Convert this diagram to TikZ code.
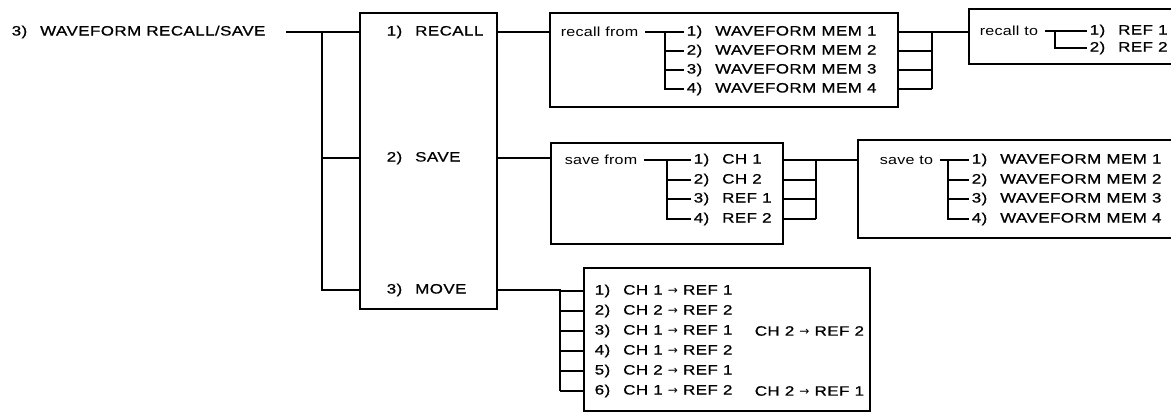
\documentclass[tikz,border=0pt]{standalone}
\usepackage{fontspec}
\setmainfont[FakeStretch=1.25,LetterSpace=3,FakeBold=0.8]{Liberation Sans}
\newfontfamily\notefont[FakeStretch=1.22,LetterSpace=2]{Liberation Sans}
\newfontfamily\arrowfont{DejaVu Sans}
\usetikzlibrary{fit, positioning}

\newcommand{\mto}{{\arrowfont\fontsize{6}{8}\selectfont →}}
\newcommand{\numgap}{\hspace{0.95em}}

\begin{document}
\begin{tikzpicture}[x=0.5pt, y=-0.5pt, line width=0.75pt,
    every node/.style={font=\fontsize{6.8}{8}\selectfont, inner sep=0pt},
    box/.style={draw, line width=0.95pt, inner sep=0pt},
    item/.style={anchor=west, inner sep=1pt},
    note/.style={anchor=west, inner sep=1pt, font=\notefont\fontsize{6.6}{8}\selectfont}]
  \clip (0,0) rectangle (1171,413);
  \useasboundingbox (0,0) rectangle (1171,413);
  % Main menu
  \node[item] (title) at (9,32) {3)\numgap WAVEFORM RECALL/SAVE};
  \node[box, fit={(360,13) (497,309)}] (menu) {};
  \node[item] (recall) at (384,32) {1)\numgap RECALL};
  \node[item] (save) at (384,158) {2)\numgap SAVE};
  \node[item] (move) at (384,290) {3)\numgap MOVE};
  \coordinate (bus) at (322,32);
  \coordinate (tline) at (286,32);
  \draw (tline) -- (title -| menu.west);
  \draw (bus) -- (bus |- move) -- (move -| menu.west);
  \draw (bus |- save) -- (save -| menu.west);
  % RECALL
  \node[box, fit={(550,13) (898,107)}] (fromrecall) {};
  \node[note] (rfrom) at (558,32) {recall from};
  \foreach \i/\y in {1/32, 2/51, 3/70, 4/89}
    \node[item] (rf\i) at (684,\y) {\i)\numgap WAVEFORM MEM \i};
  \coordinate (rftree) at (665,32);
  \draw (recall -| menu.east) -- (recall -| fromrecall.west);
  \draw ([xshift=2pt]rfrom.east) -- (rf1.west);
  \draw (rftree) |- (rf4.west);
  \foreach \i in {2,3}
    \draw (rftree |- rf\i) -- (rf\i.west);
  \coordinate (rfout) at (932,32);
  \foreach \i in {1,...,4}
    \draw (rf\i -| fromrecall.east) -- (rf\i -| rfout);
  \draw (rfout) -- (rfout |- rf4);
  \node[box, fit={(969,9) (1190,64)}] (torecall) {};
  \draw (rfout) -- (rfout -| torecall.west);
  \node[note] (rto) at (977,31) {recall to};
  \node[item] (rt1) at (1087,31) {1)\numgap REF 1};
  \node[item] (rt2) at (1087,48) {2)\numgap REF 2};
  \coordinate (rttree) at (1055,31);
  \draw ([xshift=2pt]rto.east) -- (rt1.west);
  \draw (rttree) |- (rt2.west);
  % SAVE
  \node[box, fit={(551,143) (783,244)}] (fromsave) {};
  \node[note] (sfrom) at (562,160) {save from};
  \node[item] (sf1) at (691,160) {1)\numgap CH 1};
  \node[item] (sf2) at (691,180) {2)\numgap CH 2};
  \node[item] (sf3) at (691,199) {3)\numgap REF 1};
  \node[item] (sf4) at (691,219) {4)\numgap REF 2};
  \coordinate (sftree) at (667,160);
  \draw (save -| menu.east) -- (save -| fromsave.west);
  \draw ([xshift=2pt]sfrom.east) -- (sf1.west);
  \draw (sftree) |- (sf4.west);
  \foreach \i in {2,3}
    \draw (sftree |- sf\i) -- (sf\i.west);
  \coordinate (sfout) at (816,160);
  \foreach \i in {1,...,4}
    \draw (sf\i -| fromsave.east) -- (sf\i -| sfout);
  \draw (sfout) -- (sfout |- sf4);
  \node[box, fit={(858,140) (1190,238)}] (tosave) {};
  \draw (sfout) -- (sfout -| tosave.west);
  \node[note] (sto) at (877,160) {save to};
  \foreach \i/\y in {1/160, 2/180, 3/199, 4/219}
    \node[item] (st\i) at (969,\y) {\i)\numgap WAVEFORM MEM \i};
  \coordinate (sttree) at (948,160);
  \draw ([xshift=2pt]sto.east) -- (st1.west);
  \draw (sttree) |- (st4.west);
  \foreach \i in {2,3}
    \draw (sttree |- st\i) -- (st\i.west);
  % MOVE
  \node[box, fit={(584,268) (870,411)}] (moves) {};
  \node[item] (mv1) at (592,291) {1)\numgap CH 1 \mto{} REF 1};
  \node[item] (mv2) at (592,311) {2)\numgap CH 2 \mto{} REF 2};
  \node[item] (mv3) at (592,331) {3)\numgap CH 1 \mto{} REF 1};
  \node[item] (mv4) at (592,351) {4)\numgap CH 1 \mto{} REF 2};
  \node[item] (mv5) at (592,371) {5)\numgap CH 2 \mto{} REF 1};
  \node[item] (mv6) at (592,391) {6)\numgap CH 1 \mto{} REF 2};
  \node[item] (mv3b) at (752,331) {CH 2 \mto{} REF 2};
  \node[item] (mv6b) at (752,391) {CH 2 \mto{} REF 1};
  \coordinate (mvbus) at (560,291);
  \draw (move -| menu.east) -- (move -| mvbus) -- (mvbus |- mv6);
  \foreach \i in {1,...,6}
    \draw (mvbus |- mv\i) -- (mv\i -| moves.west);
\end{tikzpicture}
\end{document}
